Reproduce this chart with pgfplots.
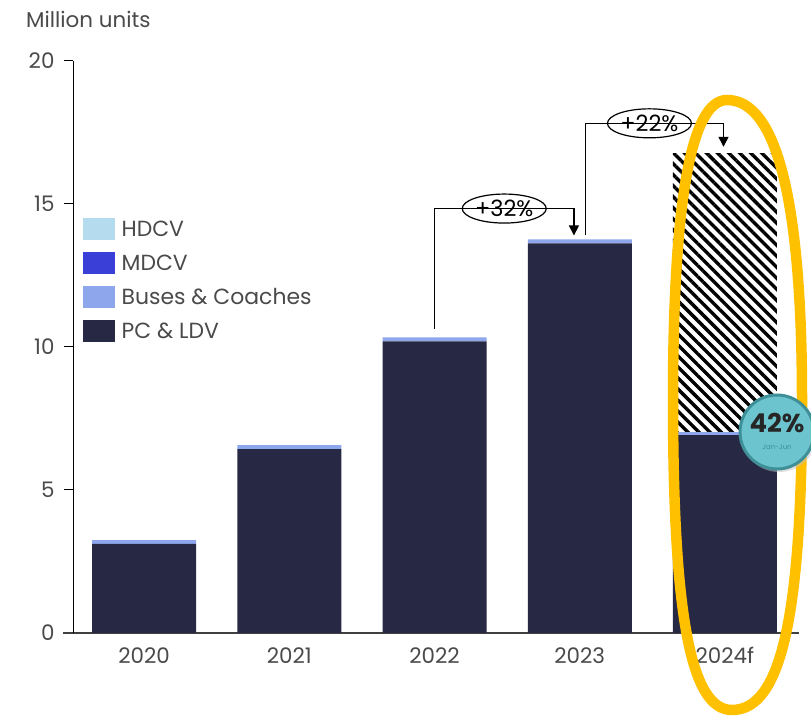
\documentclass[border=0pt]{standalone}
\usepackage{pgfplots}
\pgfplotsset{compat=1.18}
\usepackage{fontspec}
\setmainfont{Poppins}
\usetikzlibrary{patterns.meta, arrows.meta, shapes.geometric}
\definecolor{pcc}{HTML}{272844}
\definecolor{busc}{HTML}{8EA6EC}
\definecolor{mdcv}{HTML}{3A3FD8}
\definecolor{hdcv}{HTML}{B5DBEE}
\definecolor{txt}{HTML}{4A4A4A}
\definecolor{gold}{HTML}{FFC000}
\definecolor{badge}{HTML}{6CC5CE}
\definecolor{badgeedge}{HTML}{3F8F98}
\begin{document}
\begin{tikzpicture}[x=1bp,y=1bp]
\useasboundingbox (0,0) rectangle (811,726);
\node[anchor=base west, text=txt, font=\fontsize{21.5}{24}\selectfont, inner sep=0pt] at (26,698) {Million units};
\begin{axis}[
  at={(73bp,93bp)}, anchor=south west,
  scale only axis, width=726bp, height=572bp,
  xmin=-0.49, xmax=4.51, ymin=0, ymax=20,
  axis x line=bottom, axis y line=left,
  x axis line style={-, draw=black!75, line width=1.2bp, shorten <=-10bp},
  y axis line style={-, draw=black, line width=1bp},
  ybar stacked, bar width=104bp,
  xtick={0,1,2,3,4}, xticklabels={2020,2021,2022,2023,2024f},
  ytick={0,5,10,15,20},
  tick align=outside, major tick length=9bp,
  xtick style={draw=none}, ytick style={draw=black, line width=1bp},
  tick label style={text=txt, font=\fontsize{21.5}{24}\selectfont},
  /pgf/number format/assume math mode=true,
  xticklabel style={yshift=-2bp},
  yticklabel style={xshift=-6bp},
  legend style={at={(0.013,0.725)}, anchor=north west, draw=none, fill=none,
    font=\fontsize{22}{24}\selectfont, text=txt, row sep=12bp, inner sep=0pt,
    nodes={inner sep=2bp}},
  legend cell align=left,
  reverse legend,
  clip=false,
]
\addplot[fill=pcc, draw=none, legend image code/.code={\fill[pcc] (0bp,-11bp) rectangle (32bp,11bp);}]
  coordinates {(0,3.12) (1,6.43) (2,10.2) (3,13.62) (4,6.92)};
\addlegendentry{\hspace{5bp}PC \& LDV}
\addplot[fill=busc, draw=none, legend image code/.code={\fill[busc] (0bp,-11bp) rectangle (32bp,11bp);}]
  coordinates {(0,0.13) (1,0.14) (2,0.14) (3,0.14) (4,0.1)};
\addlegendentry{\hspace{5bp}Buses \& Coaches}
\addplot[fill=mdcv, draw=none, legend image code/.code={\fill[mdcv] (0bp,-11bp) rectangle (32bp,11bp);}]
  coordinates {(0,0) (1,0) (2,0) (3,0) (4,0)};
\addlegendentry{\hspace{5bp}MDCV}
\addplot[fill=hdcv, draw=none, legend image code/.code={\fill[hdcv] (0bp,-11bp) rectangle (32bp,11bp);}]
  coordinates {(0,0) (1,0) (2,0) (3,0) (4,0)};
\addlegendentry{\hspace{5bp}HDCV}
\addplot[draw=none, forget plot, pattern={Lines[angle=-45, distance=7.8bp, line width=3.4bp]}, pattern color=black]
  coordinates {(0,0) (1,0) (2,0) (3,0) (4,9.75)};
% growth annotations
\draw[line width=1.3bp, -{Triangle[width=10bp,length=10bp]}]
  (axis cs:2,10.63) -- (axis cs:2,14.84) -- (axis cs:2.96,14.84) -- (axis cs:2.96,13.9);
\draw[line width=1.2bp, fill=white] (axis cs:2.48,14.84) ellipse (42bp and 14.5bp)
  node[inner sep=0pt, text=black, font=\fontsize{22.5}{25}\selectfont] {+32\%};
\draw[line width=1.3bp, -{Triangle[width=10bp,length=10bp]}]
  (axis cs:3.04,13.9) -- (axis cs:3.04,17.82) -- (axis cs:3.99,17.82) -- (axis cs:3.99,17.0);
\draw[line width=1.2bp, fill=white] (axis cs:3.48,17.82) ellipse (42bp and 14.5bp)
  node[inner sep=0pt, text=black, font=\fontsize{22.5}{25}\selectfont] {+22\%};
\end{axis}
% highlight ellipse (hand-drawn style)
\draw[gold, line width=10.5bp]
  (673,326) .. controls (673,524) and (691,626) .. (727,626)
  .. controls (777,626) and (802,524) .. (802,326)
  .. controls (802,109) and (781,16) .. (732,16)
  .. controls (691,16) and (673,109) .. cycle;
% badge
\fill[black!25, opacity=0.5] (779,292) circle (38);
\node[circle, fill=badge, draw=badgeedge, line width=3bp, minimum size=74bp, inner sep=0pt] at (777,294) {};
\node[font=\bfseries\fontsize{26}{28}\selectfont, text=black!85] at (777,303) {42\%};
\node[font=\fontsize{7}{8}\selectfont, text=badgeedge] at (777,279) {Jan-Jun};
\end{tikzpicture}
\end{document}
